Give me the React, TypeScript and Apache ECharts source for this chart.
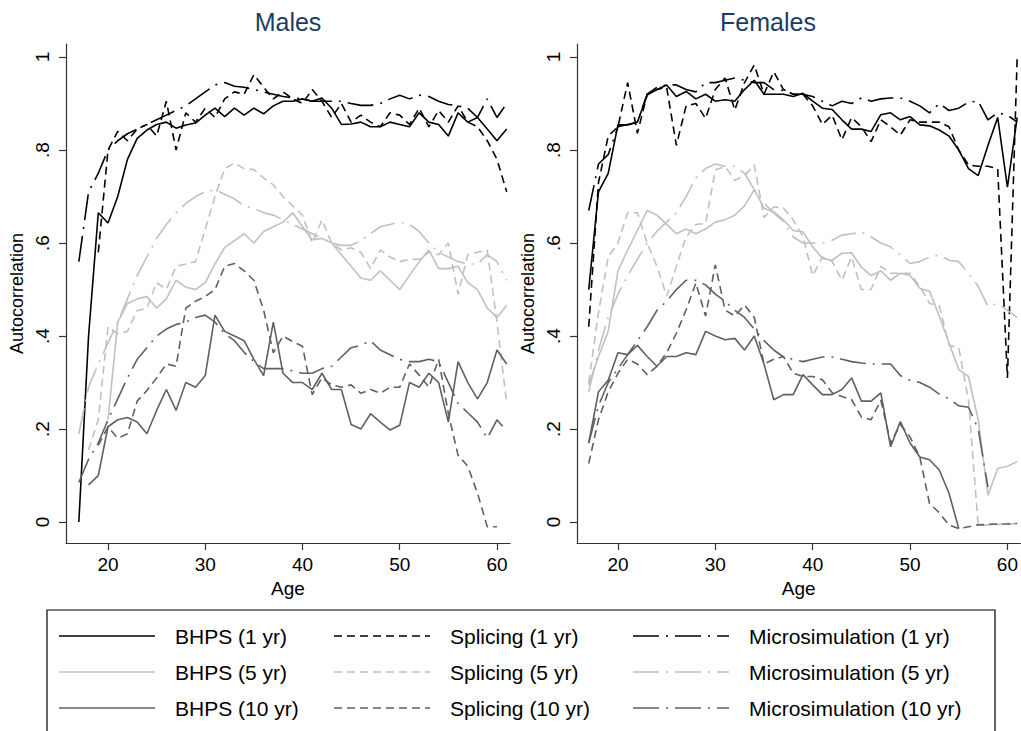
import React, { useEffect, useRef } from "react";
import * as echarts from "echarts";

const AGES = [17, 18, 19, 20, 21, 22, 23, 24, 25, 26, 27, 28, 29, 30, 31, 32, 33, 34, 35, 36, 37, 38, 39, 40, 41, 42, 43, 44, 45, 46, 47, 48, 49, 50, 51, 52, 53, 54, 55, 56, 57, 58, 59, 60, 61];

const X_TICKS = [20, 30, 40, 50, 60];
const Y_TICKS = [0, 0.2, 0.4, 0.6, 0.8, 1];

// ---- Males ----
const mBhps1 = [0.0, 0.40, 0.665, 0.643, 0.70, 0.78, 0.825, 0.843, 0.855, 0.86, 0.847, 0.854, 0.858, 0.875, 0.89, 0.872, 0.89, 0.875, 0.89, 0.878, 0.895, 0.905, 0.905, 0.91, 0.905, 0.912, 0.89, 0.855, 0.856, 0.86, 0.85, 0.85, 0.86, 0.855, 0.85, 0.88, 0.86, 0.855, 0.83, 0.88, 0.86, 0.87, 0.845, 0.82, 0.845];
const mSplice1 = [null, null, 0.58, 0.80, 0.84, 0.82, 0.845, 0.855, 0.83, 0.905, 0.80, 0.88, 0.86, 0.89, 0.87, 0.91, 0.925, 0.92, 0.962, 0.935, 0.91, 0.925, 0.91, 0.90, 0.93, 0.905, 0.87, 0.90, 0.86, 0.875, 0.86, 0.85, 0.88, 0.875, 0.855, 0.89, 0.85, 0.885, 0.86, 0.895, 0.86, 0.85, 0.82, 0.78, 0.71];
const mMicro1 = [0.56, 0.71, 0.75, 0.80, 0.82, 0.835, 0.845, 0.855, 0.865, 0.875, 0.885, 0.895, 0.91, 0.925, 0.94, 0.945, 0.937, 0.935, 0.93, 0.925, 0.92, 0.915, 0.912, 0.91, 0.905, 0.905, 0.905, 0.905, 0.90, 0.896, 0.896, 0.90, 0.91, 0.918, 0.91, 0.918, 0.915, 0.905, 0.898, 0.895, 0.89, 0.87, 0.91, 0.87, 0.90];
const mBhps5 = [null, null, null, 0.22, 0.43, 0.47, 0.48, 0.485, 0.46, 0.48, 0.52, 0.505, 0.50, 0.515, 0.555, 0.59, 0.605, 0.62, 0.60, 0.625, 0.635, 0.645, 0.665, 0.635, 0.607, 0.61, 0.60, 0.575, 0.55, 0.525, 0.52, 0.54, 0.52, 0.50, 0.53, 0.56, 0.585, 0.545, 0.545, 0.55, 0.515, 0.50, 0.46, 0.44, 0.466];
const mSplice5 = [null, 0.155, 0.22, 0.42, 0.405, 0.41, 0.455, 0.46, 0.515, 0.50, 0.55, 0.555, 0.56, 0.63, 0.70, 0.76, 0.772, 0.76, 0.758, 0.74, 0.725, 0.70, 0.68, 0.66, 0.60, 0.65, 0.60, 0.585, 0.59, 0.58, 0.545, 0.585, 0.57, 0.56, 0.565, 0.565, 0.58, 0.575, 0.60, 0.49, 0.575, 0.58, 0.585, 0.43, 0.255];
const mMicro5 = [0.19, 0.29, 0.34, 0.385, 0.43, 0.48, 0.53, 0.57, 0.61, 0.64, 0.665, 0.685, 0.70, 0.71, 0.715, 0.705, 0.695, 0.68, 0.675, 0.665, 0.66, 0.65, 0.64, 0.63, 0.62, 0.61, 0.60, 0.595, 0.595, 0.605, 0.62, 0.635, 0.64, 0.645, 0.64, 0.625, 0.60, 0.58, 0.57, 0.56, 0.555, 0.555, 0.575, 0.56, 0.52];
const mBhps10 = [null, 0.08, 0.10, 0.205, 0.22, 0.225, 0.215, 0.19, 0.24, 0.285, 0.24, 0.30, 0.29, 0.315, 0.445, 0.41, 0.40, 0.39, 0.35, 0.315, 0.43, 0.32, 0.30, 0.30, 0.285, 0.32, 0.285, 0.285, 0.21, 0.20, 0.233, 0.215, 0.198, 0.208, 0.30, 0.29, 0.32, 0.30, 0.215, 0.345, 0.30, 0.265, 0.30, 0.37, 0.34];
const mSplice10 = [null, null, 0.165, 0.205, 0.18, 0.19, 0.26, 0.283, 0.31, 0.34, 0.335, 0.46, 0.475, 0.485, 0.50, 0.55, 0.556, 0.54, 0.52, 0.456, 0.364, 0.40, 0.388, 0.378, 0.274, 0.31, 0.295, 0.29, 0.295, 0.277, 0.285, 0.277, 0.29, 0.29, 0.34, 0.316, 0.29, 0.35, 0.233, 0.144, 0.12, 0.062, -0.01, -0.01, null];
const mMicro10 = [0.085, 0.135, 0.17, 0.22, 0.265, 0.31, 0.35, 0.375, 0.40, 0.415, 0.425, 0.43, 0.44, 0.445, 0.43, 0.405, 0.39, 0.365, 0.345, 0.33, 0.33, 0.33, 0.325, 0.32, 0.32, 0.33, 0.335, 0.355, 0.375, 0.38, 0.39, 0.37, 0.36, 0.35, 0.345, 0.345, 0.35, 0.345, 0.30, 0.255, 0.235, 0.215, 0.18, 0.22, 0.195];

// ---- Females ----
const fBhps1 = [0.50, 0.71, 0.75, 0.854, 0.854, 0.86, 0.918, 0.93, 0.94, 0.915, 0.926, 0.91, 0.92, 0.905, 0.908, 0.905, 0.93, 0.95, 0.92, 0.92, 0.92, 0.915, 0.922, 0.905, 0.89, 0.887, 0.865, 0.845, 0.845, 0.84, 0.876, 0.88, 0.865, 0.872, 0.854, 0.852, 0.843, 0.83, 0.80, 0.76, 0.745, 0.81, 0.87, 0.72, 0.87];
const fSplice1 = [0.42, 0.73, 0.83, 0.85, 0.945, 0.836, 0.92, 0.93, 0.935, 0.81, 0.895, 0.90, 0.868, 0.93, 0.955, 0.886, 0.945, 0.983, 0.92, 0.968, 0.93, 0.92, 0.92, 0.895, 0.855, 0.875, 0.822, 0.87, 0.85, 0.818, 0.865, 0.85, 0.832, 0.865, 0.86, 0.86, 0.86, 0.85, 0.80, 0.768, 0.765, 0.765, 0.76, 0.31, 1.0];
const fMicro1 = [0.67, 0.77, 0.79, 0.85, 0.855, 0.86, 0.92, 0.935, 0.94, 0.94, 0.93, 0.925, 0.945, 0.945, 0.95, 0.955, 0.95, 0.945, 0.945, 0.93, 0.928, 0.92, 0.92, 0.915, 0.905, 0.895, 0.905, 0.90, 0.912, 0.905, 0.91, 0.912, 0.912, 0.905, 0.895, 0.88, 0.90, 0.885, 0.89, 0.903, 0.905, 0.865, 0.88, 0.875, 0.86];
const fBhps5 = [0.295, 0.356, 0.41, 0.54, 0.585, 0.627, 0.67, 0.66, 0.64, 0.62, 0.63, 0.62, 0.63, 0.645, 0.65, 0.66, 0.68, 0.715, 0.675, 0.667, 0.65, 0.627, 0.624, 0.592, 0.567, 0.563, 0.578, 0.579, 0.548, 0.53, 0.54, 0.52, 0.535, 0.53, 0.503, 0.496, 0.443, 0.385, 0.328, 0.313, 0.22, 0.058, 0.115, 0.12, 0.13];
const fSplice5 = [0.30, 0.45, 0.57, 0.60, 0.665, 0.665, 0.60, 0.55, 0.486, 0.55, 0.613, 0.64, 0.642, 0.757, 0.765, 0.735, 0.745, 0.768, 0.655, 0.678, 0.675, 0.65, 0.615, 0.53, 0.57, 0.56, 0.52, 0.57, 0.50, 0.50, 0.55, 0.535, 0.535, 0.535, 0.507, 0.47, 0.465, 0.38, 0.375, 0.262, -0.008, -0.006, -0.005, -0.005, -0.003];
const fMicro5 = [0.28, 0.37, 0.44, 0.49, 0.53, 0.565, 0.60, 0.625, 0.645, 0.665, 0.70, 0.74, 0.76, 0.77, 0.765, 0.765, 0.75, 0.715, 0.686, 0.665, 0.646, 0.613, 0.60, 0.60, 0.60, 0.606, 0.617, 0.62, 0.624, 0.613, 0.60, 0.592, 0.574, 0.556, 0.56, 0.57, 0.574, 0.563, 0.56, 0.535, 0.507, 0.464, 0.47, 0.455, 0.44];
const fBhps10 = [0.17, 0.28, 0.305, 0.364, 0.36, 0.38, 0.356, 0.335, 0.356, 0.356, 0.364, 0.36, 0.41, 0.40, 0.392, 0.395, 0.37, 0.40, 0.34, 0.263, 0.274, 0.274, 0.317, 0.295, 0.274, 0.274, 0.285, 0.31, 0.26, 0.26, 0.278, 0.162, 0.216, 0.17, 0.14, 0.134, 0.112, 0.062, -0.014, null, null, null, null, null, null];
const fSplice10 = [0.126, 0.22, 0.28, 0.32, 0.35, 0.34, 0.317, 0.335, 0.364, 0.406, 0.456, 0.514, 0.443, 0.553, 0.456, 0.443, 0.467, 0.44, 0.34, 0.35, 0.356, 0.32, 0.313, 0.313, 0.306, 0.278, 0.27, 0.263, 0.226, 0.22, 0.262, 0.17, 0.21, 0.183, 0.14, 0.04, 0.02, -0.006, -0.014, -0.01, -0.006, -0.005, -0.004, -0.004, -0.003];
const fMicro10 = [0.17, 0.25, 0.30, 0.33, 0.36, 0.39, 0.42, 0.455, 0.475, 0.50, 0.52, 0.52, 0.51, 0.49, 0.475, 0.455, 0.44, 0.415, 0.39, 0.37, 0.355, 0.35, 0.345, 0.35, 0.355, 0.355, 0.35, 0.345, 0.342, 0.34, 0.34, 0.34, 0.315, 0.305, 0.30, 0.29, 0.275, 0.265, 0.25, 0.247, 0.20, 0.075, null, null, null];

const SOURCES = ["BHPS", "Splicing", "Microsimulation"];
const HORIZONS = ["1 yr", "5 yr", "10 yr"];

const FONT = "'Liberation Sans', Arial, Helvetica, sans-serif";
const BLACK = "#000000";
const LIGHT = "#c0c0c0";
const DARK = "#606060";
const COLORS = [BLACK, LIGHT, DARK]; // by horizon
const DASH = [8, 5];
const DASHDOT = [26, 7, 2, 7];
const STYLES: any[] = [null, DASH, DASHDOT]; // by source

function seriesName(src: number, hor: number) {
  return `${SOURCES[src]} (${HORIZONS[hor]})`;
}

function makeSeries(src: number, hor: number, vals: (number | null)[], gi: number) {
  const color = COLORS[hor];
  return {
    type: "line",
    name: seriesName(src, hor),
    xAxisIndex: gi,
    yAxisIndex: gi,
    data: AGES.map((a, i) => [a, vals[i]]).filter((p) => p[1] !== null),
    symbol: "none",
    showSymbol: false,
    lineStyle: { color, width: 1.6, type: STYLES[src] || "solid" },
    itemStyle: { color },
    emphasis: { disabled: true },
    silent: true,
  };
}

function panelSeries(gi: number, d: (number | null)[][][]) {
  // d[hor][src]
  const out: any[] = [];
  for (let hor = 0; hor < 3; hor++) {
    for (let src = 0; src < 3; src++) {
      out.push(makeSeries(src, hor, d[hor][src], gi));
    }
  }
  return out;
}

const AXIS_COLOR = "#333333";

function xAxis(gi: number, min: number, max: number) {
  return {
    type: "value",
    gridIndex: gi,
    min,
    max,
    name: "Age",
    nameLocation: "middle",
    nameGap: 31,
    nameTextStyle: { fontSize: 19, color: "#000", fontFamily: FONT },
    axisLine: { show: true, onZero: false, lineStyle: { color: AXIS_COLOR, width: 1.2 } },
    axisTick: { show: true, length: 7, customValues: X_TICKS, lineStyle: { color: AXIS_COLOR, width: 1.2 } },
    axisLabel: { customValues: X_TICKS, fontSize: 19, color: "#000", margin: 12, fontFamily: FONT },
    splitLine: { show: false },
  };
}

function yAxis(gi: number) {
  return {
    type: "value",
    gridIndex: gi,
    min: -0.045,
    max: 1.028,
    name: "Autocorrelation",
    nameLocation: "middle",
    nameGap: 40,
    nameRotate: 90,
    nameTextStyle: { fontSize: 18, color: "#000", fontFamily: FONT },
    axisLine: { show: true, onZero: false, lineStyle: { color: AXIS_COLOR, width: 1.2 } },
    axisTick: { show: true, length: 7, customValues: Y_TICKS, lineStyle: { color: AXIS_COLOR, width: 1.2 } },
    axisLabel: {
      customValues: Y_TICKS,
      rotate: 90,
      fontSize: 19,
      color: "#000",
      margin: 14,
      fontFamily: FONT,
      formatter: (v: number) => {
        if (Math.abs(v) < 1e-9) return "0";
        if (Math.abs(v - 1) < 1e-9) return "1";
        return v.toFixed(1).replace(/^0/, "");
      },
    },
    splitLine: { show: false },
  };
}

// legend layout (drawn with graphic elements)
const LEG_LINE_X = [59, 334, 633];
const LEG_ROW_Y = [636, 672, 708];

function legendGraphics() {
  const els: any[] = [];
  for (let src = 0; src < 3; src++) {
    for (let hor = 0; hor < 3; hor++) {
      const x0 = LEG_LINE_X[src];
      const y = LEG_ROW_Y[hor];
      const style: any = { stroke: COLORS[hor], lineWidth: 1.6 };
      if (STYLES[src]) style.lineDash = STYLES[src];
      els.push({ type: "line", shape: { x1: x0, y1: y, x2: x0 + 96, y2: y }, style, silent: true });
      els.push({
        type: "text",
        x: x0 + 116,
        y,
        silent: true,
        style: {
          text: seriesName(src, hor),
          fontSize: 21,
          fontFamily: FONT,
          fill: "#000",
          align: "left",
          verticalAlign: "middle",
          textAlign: "left",
          textVerticalAlign: "middle",
        },
      });
    }
  }
  return els;
}

export default function App() {
  const ref = useRef<HTMLDivElement>(null);

  useEffect(() => {
    if (!ref.current) return;
    const chart = echarts.init(ref.current, undefined, { renderer: "svg" });

    const option: any = {
      animation: false,
      textStyle: { fontFamily: FONT },
      grid: [
        { left: 66, top: 44, width: 444, height: 499 },
        { left: 577, top: 44, width: 444, height: 499 },
      ],
      xAxis: [xAxis(0, 15.68, 61.34), xAxis(1, 15.795, 61.33)],
      yAxis: [yAxis(0), yAxis(1)],
      graphic: [
        {
          type: "text",
          x: 288,
          y: 22,
          style: { text: "Males", fontSize: 25, fontFamily: FONT, fill: "#1a3d66", align: "center", verticalAlign: "middle", textAlign: "center", textVerticalAlign: "middle" },
        },
        {
          type: "text",
          x: 768,
          y: 22,
          style: { text: "Females", fontSize: 25, fontFamily: FONT, fill: "#1a3d66", align: "center", verticalAlign: "middle", textAlign: "center", textVerticalAlign: "middle" },
        },
        {
          type: "rect",
          shape: { x: 47, y: 610, width: 948, height: 125 },
          style: { fill: "none", stroke: "#000", lineWidth: 1.2 },
        },
        ...legendGraphics(),
      ],
      series: [
        ...panelSeries(0, [
          [mBhps1, mSplice1, mMicro1],
          [mBhps5, mSplice5, mMicro5],
          [mBhps10, mSplice10, mMicro10],
        ]),
        ...panelSeries(1, [
          [fBhps1, fSplice1, fMicro1],
          [fBhps5, fSplice5, fMicro5],
          [fBhps10, fSplice10, fMicro10],
        ]),
      ],
    };

    chart.setOption(option);
    return () => chart.dispose();
  }, []);

  return (
    <div
      ref={ref}
      style={{ position: "absolute", left: 0, top: 0, width: 1021, height: 731, background: "#fff" }}
    />
  );
}
